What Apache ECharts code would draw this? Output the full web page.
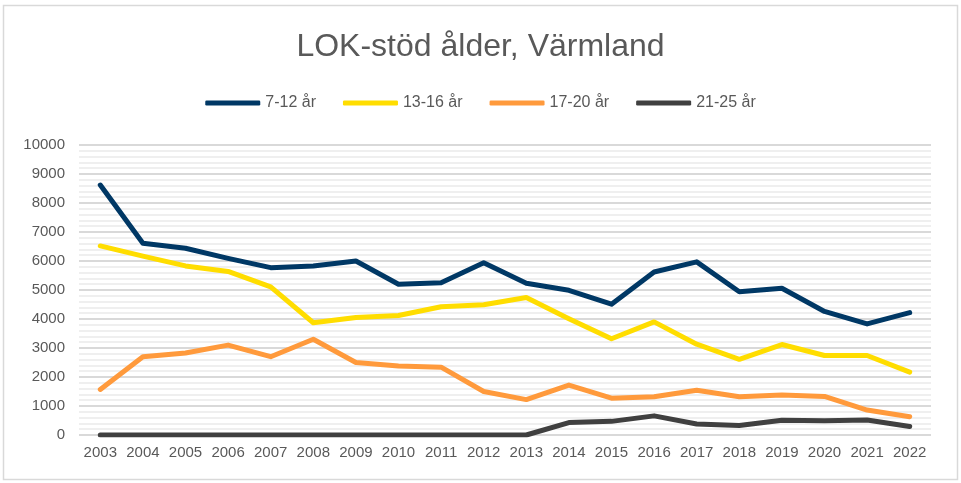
<!DOCTYPE html>
<html>
<head>
<meta charset="utf-8">
<script src="https://cdn.jsdelivr.net/npm/echarts@6/dist/echarts.min.js"></script>
<style>
  html, body { margin: 0; padding: 0; background: #fff; }
  #chart { width: 961px; height: 483px; }
</style>
</head>
<body>
<div id="chart"></div>
<script>
var years = ['2003', '2004', '2005', '2006', '2007', '2008', '2009', '2010', '2011', '2012',
  '2013', '2014', '2015', '2016', '2017', '2018', '2019', '2020', '2021', '2022'];

var age7to12 = [8620, 6610, 6440, 6090, 5770, 5830, 6000, 5200, 5250, 5940,
  5230, 4990, 4510, 5620, 5970, 4940, 5060, 4260, 3830, 4220];
var age13to16 = [6520, 6170, 5830, 5640, 5110, 3870, 4050, 4120, 4420, 4490,
  4740, 4010, 3320, 3900, 3130, 2610, 3120, 2740, 2740, 2170];
var age17to20 = [1570, 2700, 2830, 3100, 2700, 3300, 2500, 2380, 2340, 1500,
  1220, 1720, 1270, 1320, 1540, 1320, 1380, 1330, 860, 630];
var age21to25 = [0, 0, 0, 0, 0, 0, 0, 0, 0, 0,
  0, 430, 470, 660, 380, 330, 510, 490, 520, 290];

var seriesNames = ['7-12 år', '13-16 år', '17-20 år', '21-25 år'];
var seriesColors = ['#003865', '#ffdd00', '#ff9a3c', '#404040'];
var seriesData = [age7to12, age13to16, age17to20, age21to25];

var myChart = echarts.init(document.getElementById('chart'), null, { renderer: 'canvas' });

var option = {
  animation: false,
  backgroundColor: '#ffffff',
  textStyle: { fontFamily: 'Liberation Sans, Arial, sans-serif' },
  graphic: [{
    type: 'rect',
    shape: { x: 3.5, y: 5.5, width: 954, height: 474 },
    style: { fill: 'none', stroke: '#d9d9d9', lineWidth: 1.5 },
    silent: true
  }],
  title: {
    text: 'LOK-stöd ålder, Värmland',
    left: 'center',
    top: 26,
    textStyle: { fontSize: 32, fontWeight: 'normal', color: '#595959' }
  },
  legend: {
    top: 90,
    left: 'center',
    itemWidth: 55,
    itemHeight: 5,
    itemGap: 27,
    icon: 'roundRect',
    data: seriesNames,
    textStyle: { fontSize: 16, color: '#595959' }
  },
  grid: { left: 79, right: 30, top: 145, bottom: 48 },
  xAxis: {
    type: 'category',
    data: years,
    boundaryGap: true,
    axisLine: { show: false },
    axisTick: { show: false },
    axisLabel: { fontSize: 15, color: '#595959', margin: 10, interval: 0 }
  },
  yAxis: {
    type: 'value',
    min: 0,
    max: 10000,
    interval: 1000,
    axisLine: { show: false },
    axisTick: { show: false },
    axisLabel: {
      fontSize: 15,
      color: '#595959',
      margin: 14,
      formatter: function (v) { return String(v); }
    },
    splitLine: { lineStyle: { color: '#d9d9d9', width: 2 } },
    minorTick: { show: false, splitNumber: 5 },
    minorSplitLine: { show: true, lineStyle: { color: '#efefef', width: 2 } }
  },
  series: seriesNames.map(function (name, i) {
    return {
      name: name,
      type: 'line',
      data: seriesData[i],
      symbol: 'none',
      color: seriesColors[i],
      lineStyle: { width: 5, color: seriesColors[i], cap: 'round', join: 'round' }
    };
  })
};

myChart.setOption(option);
window.addEventListener('resize', myChart.resize);
</script>
</body>
</html>
